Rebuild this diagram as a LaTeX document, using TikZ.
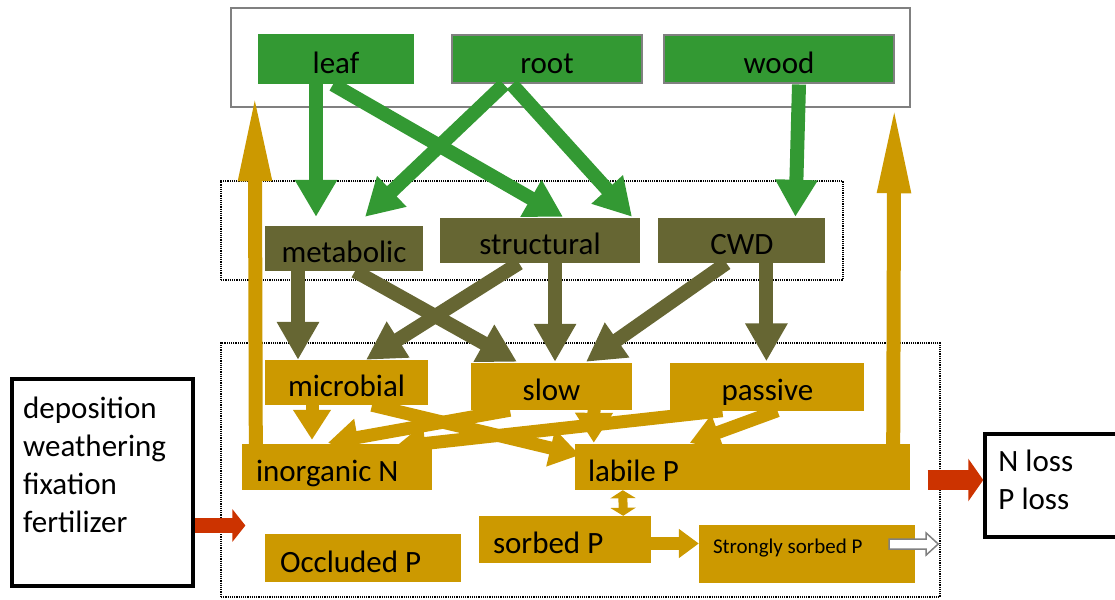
\documentclass[tikz,border=0pt]{standalone}
\usepackage{fontspec}
\setmainfont{Carlito}
\usepackage{xcolor}
\usepackage{tikz}
\usetikzlibrary{arrows.meta, positioning, calc}
\definecolor{leafgreen}{HTML}{339933}
\definecolor{litter}{HTML}{666633}
\definecolor{soil}{HTML}{CC9900}
\definecolor{flux}{HTML}{CC3300}
\definecolor{framegray}{HTML}{808080}
\tikzstyle{plant} = [rectangle, minimum height=48pt, text centered, text height=28pt, text depth=0pt, draw=framegray, line width=2pt, fill=leafgreen, font=\fontsize{31}{38}\selectfont]
\tikzstyle{litterpool} = [rectangle, minimum height=45pt, text centered, text height=28pt, text depth=0pt, fill=litter, font=\fontsize{31}{38}\selectfont]
\tikzstyle{soilpool} = [rectangle, minimum height=46pt, text centered, text height=28pt, text depth=0pt, fill=soil, font=\fontsize{31}{38}\selectfont, execute at begin node={\spaceskip=0pt\xspaceskip=0pt}]
\tikzstyle{group} = [rectangle, draw=black, densely dotted, line width=1.2pt]
\tikzstyle{plantgroup} = [rectangle, draw=framegray, line width=2.5pt]
\tikzstyle{extbox} = [rectangle, draw=black, fill=white]
\tikzstyle{exttext} = [anchor=north west, align=left, inner sep=0pt, font=\fontsize{31}{38}\selectfont]
\tikzstyle{plantflow} = [line width=14pt, draw=leafgreen, -{Triangle[length=37pt,width=40pt]}]
\tikzstyle{litterflow} = [line width=14pt, draw=litter, -{Triangle[length=38pt,width=40pt]}]
\tikzstyle{soilflow} = [line width=13pt, draw=soil, -{Triangle[length=30pt,width=36pt]}]
\tikzstyle{uptake} = [line width=14pt, draw=soil, -{Triangle[length=90pt,width=30pt]}]
\tikzstyle{inflow} = [line width=15pt, draw=flux, -{Triangle[length=13pt,width=32pt]}]
\tikzstyle{outflow} = [line width=20pt, draw=flux, -{Triangle[length=15pt,width=42pt]}]

\begin{document}
\begin{tikzpicture}[x=1pt, y=-1pt, node distance=20pt]
    \useasboundingbox (0,0) rectangle (1115,599);

    % groups
    \node[plantgroup, minimum width=679pt, minimum height=99pt] (plants) at (570.5,57.5) {};
    \node[group, minimum width=622pt, minimum height=99pt] (litterbox) at (532,230.5) {};
    \node[group, minimum width=719pt, minimum height=254pt] (soilbox) at (580.5,470) {};

    % plant pools
    \node[plant, minimum width=154pt, draw=leafgreen] (leaf) at (336,59.5) {leaf};
    \node[plant, minimum width=190pt, right=37pt of leaf] (root) {root};
    \node[plant, minimum width=230pt, right=of root] (wood) {wood};

    % litter pools
    \node[litterpool, minimum width=158pt] (metabolic) at (344,248.5) {metabolic};
    \node[litterpool, minimum width=200pt] (structural) at (540,240.5) {structural};
    \node[litterpool, minimum width=167pt, right=18pt of structural] (cwd) {CWD};

    % soil pools
    \node[soilpool, minimum width=163pt, minimum height=45pt] (microbial) at (346.5,382.5) {microbial};
    \node[soilpool, minimum width=161pt, minimum height=47pt] (slow) at (551.5,386.5) {slow};
    \node[soilpool, minimum width=194pt, minimum height=48pt, right=38pt of slow] (passive) {passive};
    \node[soilpool, minimum width=190pt, text width=162pt, inner xsep=14pt, align=left] (inorgN) at (337,467) {inorganic N};
    \node[soilpool, minimum width=335pt, text width=309pt, inner xsep=13pt, align=left] (labileP) at (742.5,467) {labile P};
    \node[soilpool, minimum width=172pt, minimum height=47pt, text width=144pt, inner xsep=14pt, align=left] (sorbedP) at (565,539.5) {sorbed P};
    \node[soilpool, minimum width=216pt, minimum height=58pt, text width=188pt, inner xsep=14pt, align=left, text height=15pt, text depth=17pt, font=\fontsize{21}{25}\selectfont] (strongP) at (807,554) {Strongly sorbed P};
    \node[soilpool, minimum width=196pt, minimum height=48pt, text width=166pt, inner xsep=15pt, align=left] (occludedP) at (363,558) {Occluded P};

    % inputs and losses
    \node[extbox, minimum width=181pt, minimum height=207pt, line width=4pt] (dep) at (102.5,482.5) {};
    \node[exttext] (deptext) at ([xshift=13pt,yshift=-20pt]dep.north west) {deposition\\weathering\\fixation\\fertilizer};
    \node[extbox, minimum width=140pt, minimum height=103pt, line width=3.5pt] (loss) at (1055,485.5) {};
    \node[exttext] (losstext) at ([xshift=15pt,yshift=-18pt]loss.north west) {N loss\\P loss};

    % plant to litter
    \draw[plantflow] ([xshift=-20pt]leaf.south) -- ([xshift=-28pt,yshift=9pt]metabolic.north);
    \draw[plantflow] ([xshift=-3pt]leaf.south) -- ([xshift=23pt,yshift=1pt]structural.north);
    \draw[plantflow] ([xshift=-43pt]root.south) -- ([xshift=21pt,yshift=9pt]metabolic.north);
    \draw[plantflow] ([xshift=-35pt]root.south) -- ([xshift=92pt,yshift=1pt]structural.north);
    \draw[plantflow] ([xshift=20pt]wood.south) -- ([xshift=53.5pt,yshift=1pt]cwd.north);

    % litter to soil
    \draw[litterflow] ([xshift=-46pt]metabolic.south) -- ([xshift=-48.5pt]microbial.north);
    \draw[litterflow] ([xshift=11pt]metabolic.south) -- ([xshift=-34.5pt,yshift=1pt]slow.north);
    \draw[litterflow] ([xshift=-21pt]structural.south) -- ([xshift=19.5pt]microbial.north);
    \draw[litterflow] ([xshift=15pt]structural.south) -- ([xshift=3.5pt,yshift=1pt]slow.north);
    \draw[litterflow] ([xshift=-15.5pt]cwd.south) -- ([xshift=34.5pt,yshift=1pt]slow.north);
    \draw[litterflow] ([xshift=24.5pt]cwd.south) -- ([xshift=-1pt,yshift=1pt]passive.north);

    % mineralisation
    \draw[soilflow] ([xshift=-34.5pt]microbial.south) -- ([xshift=-25pt,yshift=4pt]inorgN.north);
    \draw[soilflow] ([xshift=25.5pt]microbial.south) -- ([xshift=5pt,yshift=12pt]labileP.west);
    \draw[soilflow] ([xshift=-41.5pt]slow.south) -- ([xshift=-9pt,yshift=1pt]inorgN.north);
    \draw[soilflow] ([xshift=42.5pt]slow.south) -- ([xshift=19pt,yshift=1pt]labileP.north west);
    \draw[soilflow] ([xshift=-45pt]passive.south) -- ([xshift=-37pt,yshift=-3pt]inorgN.north east);
    \draw[soilflow] ([xshift=10pt]passive.south) -- ([xshift=115pt,yshift=1pt]labileP.north west);

    % uptake
    \draw[uptake] ([xshift=14pt]inorgN.north west) -- ([xshift=25pt,yshift=17pt]plants.south west);
    \draw[uptake] ([xshift=-17pt]labileP.north east) -- ([xshift=-17pt,yshift=5pt]plants.south east);

    % phosphorus exchange
    \draw[line width=9pt, draw=soil, {Triangle[length=8pt,width=25pt]}-{Triangle[length=8pt,width=25pt]}] ([xshift=48pt]labileP.south west) -- ([xshift=-28pt]sorbedP.north east);
    \draw[line width=13pt, draw=soil, -{Triangle[length=20pt,width=28pt]}] ([yshift=-4pt]sorbedP.east) -- ([yshift=10.5pt]strongP.west);
    \coordinate (sink) at ([xshift=23pt,yshift=10pt]strongP.east);
    \draw[framegray, line width=1.5pt, fill=white] (sink) -- ++(-12,-11) -- ++(0,6) -- ++(-37,0) -- ++(0,10) -- ++(37,0) -- ++(0,6) -- cycle;

    % external fluxes
    \coordinate (depout) at ([yshift=-43pt]dep.east);
    \coordinate (lossin) at ([yshift=5.5pt]loss.west);
    \draw[inflow, shorten >=-25pt] (depout) -- (depout -| soilbox.west);
    \draw[outflow, shorten <=-13pt] (lossin -| soilbox.east) -- (lossin);
\end{tikzpicture}
\end{document}
